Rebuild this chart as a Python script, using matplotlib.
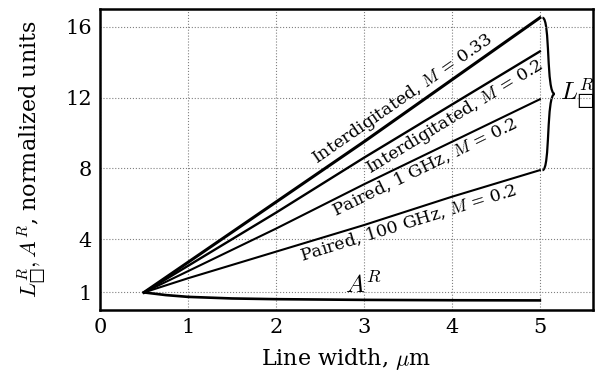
import matplotlib
matplotlib.use("Agg")
import matplotlib.pyplot as plt
import matplotlib.transforms as mtransforms
import numpy as np
from matplotlib.path import Path
from matplotlib.patches import PathPatch

plt.rcParams['font.family'] = ['DejaVu Serif']
plt.rcParams['mathtext.fontset'] = 'cm'

# line width (um) and normalized values
width = [0.5, 1.0, 2.0, 3.0, 4.0, 5.0]
inter_033 = [1.0, 2.7, 6.1, 9.5, 13.0, 16.5]
inter_02 = [1.0, 2.5, 5.5, 8.6, 11.6, 14.6]
paired_1g = [1.0, 2.2, 4.6, 7.1, 9.5, 11.9]
paired_100g = [1.0, 1.8, 3.3, 4.8, 6.4, 7.9]
area_w = [0.5, 0.75, 1.0, 1.5, 2.0, 3.0, 4.0, 5.0]
area_r = [1.0, 0.85, 0.75, 0.66, 0.62, 0.58, 0.56, 0.55]

labels = ["Interdigitated, $M$ = 0.33", "Interdigitated, $M$ = 0.2",
          "Paired, 1 GHz, $M$ = 0.2", "Paired, 100 GHz, $M$ = 0.2"]
label_x = [3.52, 3.96, 3.64, 3.47]
label_side = ['above', 'below', 'below', 'below']
series = [inter_033, inter_02, paired_1g, paired_100g]
lws = [2.2, 1.7, 1.5, 1.5]

fig = plt.figure(figsize=(6, 3.71), dpi=100)
ax = fig.add_axes([0.1667, 0.164, 0.821, 0.812])
ax.set_xlim(0, 5.6)
ax.set_ylim(0, 17)

for ys, lw in zip(series, lws):
    ax.plot(width, ys, color='black', linewidth=lw)
ax.plot(area_w, area_r, color='black', linewidth=1.9)

# labels along the lines
for ys, lab, lx, side in zip(series, labels, label_x, label_side):
    p0 = ax.transData.transform((width[0], ys[0]))
    p1 = ax.transData.transform((width[-1], ys[-1]))
    ang = np.degrees(np.arctan2(p1[1] - p0[1], p1[0] - p0[0]))
    a = np.radians(ang)
    d = 1.5 if side == 'above' else -1.5
    tr = mtransforms.offset_copy(ax.transData, fig=fig, x=-np.sin(a) * d,
                                 y=np.cos(a) * d, units='points')
    ly = np.interp(lx, width, ys)
    ax.text(lx, ly, lab, rotation=ang, ha='center',
            va='bottom' if side == 'above' else 'top',
            rotation_mode='anchor', fontsize=12.5, transform=tr)

ax.text(3.0, 1.0, "$A^R$", fontsize=18, ha='center', va='baseline')

# curly brace grouping the L curves
x0 = width[-1] + 0.03
y_lo, y_hi = paired_100g[-1], inter_033[-1]
ym = (y_lo + y_hi) / 2
dx = 0.1
def half(ya, yb):
    return [(x0, ya), (x0 + dx * 0.9, ya), (x0 + dx * 0.4, yb), (x0 + dx * 1.4, yb)]
for seg in (half(y_hi, ym), half(y_lo, ym)):
    path = Path(seg, [Path.MOVETO, Path.CURVE4, Path.CURVE4, Path.CURVE4])
    ax.add_patch(PathPatch(path, fill=False, lw=1.6, color='black', clip_on=False))
ax.text(5.43, ym, "$L^R_{□}$", fontsize=18, ha='center', va='center')

ax.set_xticks([0, 1, 2, 3, 4, 5])
ax.set_yticks([1, 4, 8, 12, 16])
ax.tick_params(length=0, labelsize=15, pad=6)
ax.grid(True, linestyle=':', color='gray', linewidth=0.8)
for s in ax.spines.values():
    s.set_linewidth(1.8)
ax.set_xlabel(r"Line width, $\mu$m", fontsize=16, labelpad=6)
ax.set_ylabel("$L^R_{□}, A^R$, normalized units", fontsize=16, labelpad=12)

fig.savefig("out.png", dpi=100)
